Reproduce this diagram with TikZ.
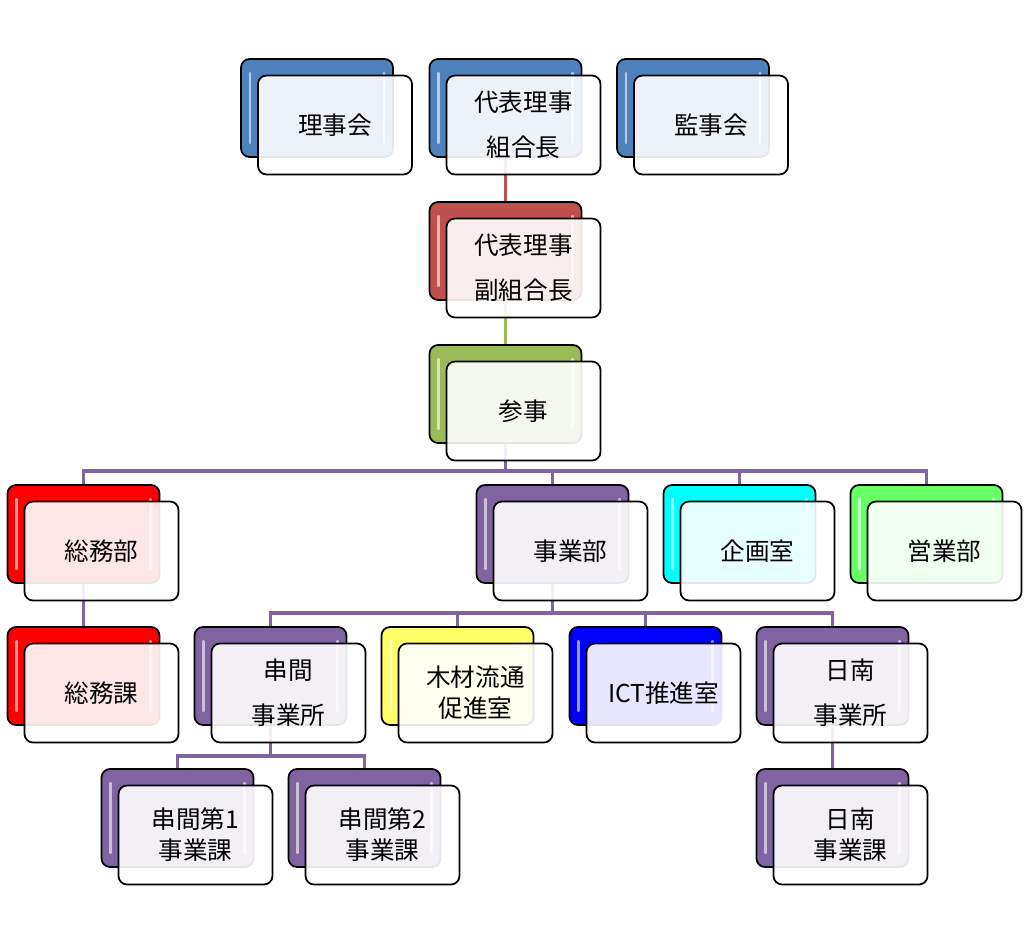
\documentclass[tikz,border=0pt]{standalone}
\usepackage{fontspec}
\setmainfont{Noto Sans CJK JP}
\usetikzlibrary{positioning,backgrounds}
\definecolor{azul}{RGB}{79,129,189}
\definecolor{rojo}{RGB}{192,80,77}
\definecolor{verde}{RGB}{155,187,89}
\definecolor{morado}{RGB}{128,100,162}
\definecolor{rojovivo}{RGB}{255,0,0}
\definecolor{cian}{RGB}{0,255,255}
\definecolor{verdevivo}{RGB}{102,255,102}
\definecolor{amarillo}{RGB}{255,255,102}
\definecolor{azulvivo}{RGB}{0,0,255}
\tikzset{
  back/.style={draw=black, line width=1pt, rounded corners=0.17cm,
    minimum width=3.04cm, minimum height=1.96cm, inner sep=0pt,
    path picture={
      \draw[white, opacity=0.6, line width=1.4pt, line cap=round]
        ([xshift=5pt,yshift=-8pt]path picture bounding box.north west) --
        ([xshift=5pt,yshift=8pt]path picture bounding box.south west);
      \draw[white, opacity=0.6, line width=1.4pt, line cap=round]
        ([xshift=-5pt,yshift=-8pt]path picture bounding box.north east) --
        ([xshift=-5pt,yshift=8pt]path picture bounding box.south east);}},
  front/.style={draw=black, line width=1pt, fill=white, fill opacity=0.9,
    text opacity=1, rounded corners=0.17cm, minimum width=3.08cm,
    minimum height=1.98cm, inner sep=0pt, align=center,
    font=\fontsize{14}{25.5}\selectfont},
  tight/.style={font=\fontsize{14}{17.6}\selectfont},
  link/.style={line width=2.1pt, color=#1}
}
\begin{document}
\begin{tikzpicture}[x=0.02cm, y=-0.02cm]
  \useasboundingbox (0,0) rectangle (1024,944);
  %Fila 1
  \node[back, fill=azul] (riji-b) at (317,108) {};
  \node[front] (riji) at ([shift={(18,17)}]riji-b) {理事会};
  \node[back, fill=azul] (kumi-b) at (505.5,108) {};
  \node[front] (kumi) at ([shift={(18,17)}]kumi-b) {代表理事\\組合長};
  \node[back, fill=azul] (kanji-b) at (693,108) {};
  \node[front] (kanji) at ([shift={(18,17)}]kanji-b) {監事会};
  %Fila 2 y 3
  \node[back, fill=rojo] (fuku-b) at (505.5,251) {};
  \node[front] (fuku) at ([shift={(18,17)}]fuku-b) {代表理事\\副組合長};
  \node[back, fill=verde] (sanji-b) at (505.5,394) {};
  \node[front] (sanji) at ([shift={(18,17)}]sanji-b) {参事};
  %Fila 4
  \node[back, fill=rojovivo] (soumu-b) at (83.5,534) {};
  \node[front] (soumu) at ([shift={(18,17)}]soumu-b) {総務部};
  \node[back, fill=morado] (jigyo-b) at (552.5,534) {};
  \node[front] (jigyo) at ([shift={(18,17)}]jigyo-b) {事業部};
  \node[back, fill=cian] (kikaku-b) at (739.5,534) {};
  \node[front] (kikaku) at ([shift={(18,17)}]kikaku-b) {企画室};
  \node[back, fill=verdevivo] (eigyo-b) at (926.5,534) {};
  \node[front] (eigyo) at ([shift={(18,17)}]eigyo-b) {営業部};
  %Fila 5
  \node[back, fill=rojovivo] (soumuka-b) at (83.5,676) {};
  \node[front] (soumuka) at ([shift={(18,17)}]soumuka-b) {総務課};
  \node[back, fill=morado] (kushima-b) at (270.5,676) {};
  \node[front] (kushima) at ([shift={(18,17)}]kushima-b) {串間\\事業所};
  \node[back, fill=amarillo] (mokuzai-b) at (457.5,676) {};
  \node[front, tight] (mokuzai) at ([shift={(18,17)}]mokuzai-b) {木材流通\\促進室};
  \node[back, fill=azulvivo] (ict-b) at (645.5,676) {};
  \node[front] (ict) at ([shift={(18,17)}]ict-b) {ICT推進室};
  \node[back, fill=morado] (nichinan-b) at (832.5,676) {};
  \node[front] (nichinan) at ([shift={(18,17)}]nichinan-b) {日南\\事業所};
  %Fila 6
  \node[back, fill=morado] (kushima1-b) at (177.5,818) {};
  \node[front, tight] (kushima1) at ([shift={(18,17)}]kushima1-b) {串間第1\\事業課};
  \node[back, fill=morado] (kushima2-b) at (364.5,818) {};
  \node[front, tight] (kushima2) at ([shift={(18,17)}]kushima2-b) {串間第2\\事業課};
  \node[back, fill=morado] (nichinanka-b) at (832.5,818) {};
  \node[front, tight] (nichinanka) at ([shift={(18,17)}]nichinanka-b) {日南\\事業課};
  %Lineas
  \coordinate (bus4) at (0,471);
  \coordinate (bus5) at (0,613);
  \coordinate (bus6) at (0,756);
  \begin{scope}[on background layer]
    \draw[link=rojo] (kumi-b.center) -- (fuku-b.center);
    \draw[link=verde] (fuku-b.center) -- (sanji-b.center);
    \draw[link=morado] (sanji-b.center) -- (sanji-b.center |- bus4);
    \draw[link=morado] (soumu-b.center) |- (bus4 -| eigyo-b.center) -- (eigyo-b.center);
    \draw[link=morado] (jigyo-b.center) -- (jigyo-b.center |- bus4);
    \draw[link=morado] (kikaku-b.center) -- (kikaku-b.center |- bus4);
    \draw[link=morado] (soumu-b.center) -- (soumuka-b.center);
    \draw[link=morado] (jigyo-b.center) -- (jigyo-b.center |- bus5);
    \draw[link=morado] (kushima-b.center) |- (bus5 -| nichinan-b.center) -- (nichinan-b.center);
    \draw[link=morado] (mokuzai-b.center) -- (mokuzai-b.center |- bus5);
    \draw[link=morado] (ict-b.center) -- (ict-b.center |- bus5);
    \draw[link=morado] (kushima1-b.center) |- (bus6 -| kushima2-b.center) -- (kushima2-b.center);
    \draw[link=morado] (kushima-b.center) -- (kushima-b.center |- bus6);
    \draw[link=morado] (nichinan-b.center) -- (nichinanka-b.center);
  \end{scope}
\end{tikzpicture}
\end{document}
